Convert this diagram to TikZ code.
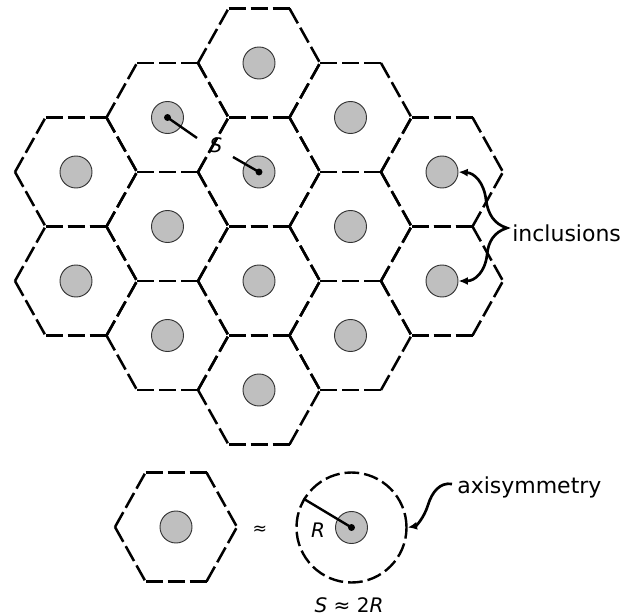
\documentclass[tikz,border=0pt]{standalone}
\usepackage{fontspec}
\setmainfont{DejaVu Sans}
\usetikzlibrary{arrows.meta}
\newcommand\hexcell[2]{%
  \begin{scope}[shift={(#1,#2)}]
    \draw[hexline] (-30.5,-54.5) -- (30.5,-54.5);
    \draw[hexline] (-30.5,54.5) -- (30.5,54.5);
    \draw[hexline] (-61,0) -- (-30.5,-54.5);
    \draw[hexline] (-61,0) -- (-30.5,54.5);
    \draw[hexline] (30.5,-54.5) -- (61,0);
    \draw[hexline] (30.5,54.5) -- (61,0);
  \end{scope}}
\begin{document}
\begin{tikzpicture}[x=0.75pt,y=-0.75pt,
  hexline/.style={line width=1.9pt, dash pattern=on 12.75pt off 3.75pt},
  incl/.style={circle, draw=black!80, line width=0.7pt, fill=black!25, minimum size=24pt, inner sep=0pt},
  conn/.style={line width=1.8pt},
  lbl/.style={font=\fontsize{16.5}{18}\selectfont, inner sep=0pt},
  sym/.style={font=\fontsize{15}{17}\selectfont\itshape, inner sep=0pt},
  tipA/.style={-{Latex[length=7pt,width=6pt]}}
]
\useasboundingbox (0,0) rectangle (638,616);

% honeycomb
\foreach \x/\y in {259/63,259/172,259/281,259/390,
                   167.5/117.5,167.5/226.5,167.5/335.5,
                   350.5/117.5,350.5/226.5,350.5/335.5,
                   76/172,76/281,442/172,442/281}
  {\hexcell{\x}{\y}}

% inclusions
\foreach \n/\x/\y in {t1/259/63,c1/259/172,c2/259/281,b1/259/390,
                      m1/167.5/117.5,m3/167.5/226.5,m5/167.5/335.5,
                      m2/350.5/117.5,m4/350.5/226.5,m6/350.5/335.5,
                      l1/76/172,l2/76/281,r1/442/172,r2/442/281}
  {\node[incl] (\n) at (\x,\y) {};}

% spacing S
\fill (m1) circle[radius=2.6pt];
\fill (c1) circle[radius=2.6pt];
\coordinate (s1) at (197,138);
\coordinate (s2) at (233,157);
\draw[conn] (m1.center) -- (s1);
\draw[conn] (s2) -- (c1.center);
\node[sym] (S) at (216,145) {S};

% inclusions label
\coordinate (j) at (507,228);
\draw[line width=2pt, line join=miter,
      {Latex[length=7pt,width=6pt]}-{Latex[length=7pt,width=6pt]}]
  (r1.east) .. controls (474,173) and (484,182) .. (486,200)
  .. controls (488,214) and (494,224) .. (j)
  .. controls (494,232) and (488,242) .. (487,255)
  .. controls (485,272) and (475,281) .. (r2.east);
\node[lbl, anchor=base west] (inc) at (512,242) {inclusions};

% bottom: hexagon cell
\hexcell{176}{527}
\node[incl] (h) at (176,527) {};
\node[font=\fontsize{13}{15}\selectfont, inner sep=0pt] (approx) at (260,530) {≈};

% equivalent axisymmetric cell
\node[circle, draw, line width=1.8pt, dash pattern=on 11pt off 3.75pt,
      minimum size=82.5pt, inner sep=0pt] (dc) at (351.5,527.5) {};
\node[incl] (k) at (351.5,527.5) {};
\fill (k) circle[radius=2.6pt];
\draw[conn] (k.center) -- (dc.149);
\node[sym] (R) at (318,530) {R};

\draw[line width=2pt, tipA]
  (452,484) .. controls (440,482) and (432,492) .. (428,505)
  .. controls (424,518) and (416,526) .. (dc.east);
\node[lbl, anchor=base west] (axi) at (457,493) {axisymmetry};

\node[font=\fontsize{15}{17}\selectfont, inner sep=0pt] (rel) at (349,605) {\textit{S} ≈ 2\textit{R}};
\end{tikzpicture}
\end{document}
